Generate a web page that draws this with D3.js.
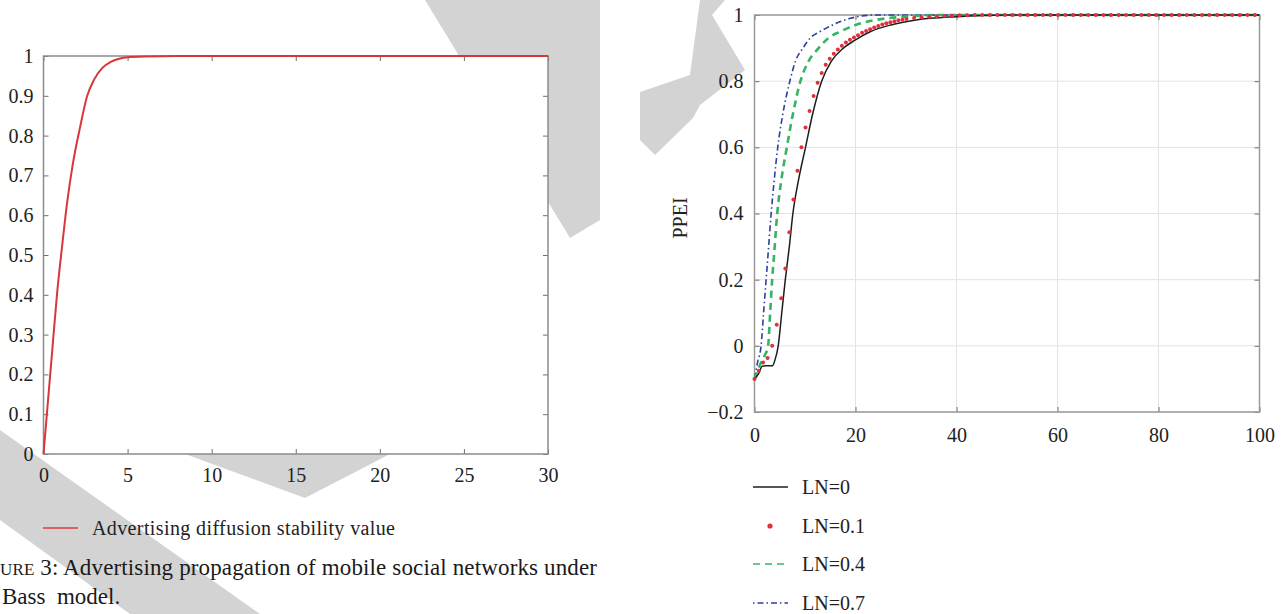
<!DOCTYPE html>
<html>
<head>
<meta charset="utf-8">
<script src="https://cdn.jsdelivr.net/npm/d3@7"></script>
<style>
  body { margin: 0; background: #fff; }
  svg { display: block; font-family: "Liberation Serif", "DejaVu Serif", serif; }
</style>
</head>
<body>
<div id="chart"></div>
<script>
// Left panel: Bass model diffusion curve
var bassT = [0, 0.2, 0.5, 0.8, 1.1, 1.4, 1.75, 2.17, 2.6, 3, 3.5, 4, 4.5, 5, 6, 8, 10, 15, 20, 25, 30];
var bassV = [0, 0.1, 0.25, 0.4, 0.52, 0.63, 0.73, 0.82, 0.9, 0.94, 0.97, 0.985, 0.993, 0.997, 0.999, 1, 1, 1, 1, 1, 1];
var leftXTicks = [0, 5, 10, 15, 20, 25, 30];
var leftYTicks = [0, 0.1, 0.2, 0.3, 0.4, 0.5, 0.6, 0.7, 0.8, 0.9, 1];

// Right panel: PPEI for different LN values
var ln0 = [[0, -0.1], [0.8, -0.085], [1.5, -0.062], [2.2, -0.06], [3.6, -0.06], [4.0, -0.045], [4.7, 0], [5.4, 0.1],
  [6.1, 0.2], [6.9, 0.3], [7.6, 0.4], [8.7, 0.5], [10.1, 0.6], [11.5, 0.7], [13.3, 0.8], [15.2, 0.86], [17.6, 0.9],
  [20, 0.925], [23, 0.95], [27, 0.97], [32, 0.985], [40, 0.995], [50, 1], [100, 1]];
var ln01 = [[0, -0.1], [0.85, -0.075], [1.7, -0.05], [2.6, -0.037], [3.5, 0], [4.4, 0.064], [5.3, 0.144], [6.1, 0.234],
  [6.9, 0.343], [7.7, 0.442], [8.5, 0.529], [9.3, 0.6], [10.1, 0.66], [10.9, 0.71], [11.7, 0.755], [12.5, 0.795],
  [13.3, 0.825], [14.1, 0.85], [14.9, 0.868], [15.7, 0.883], [16.5, 0.896], [17.3, 0.907], [18.1, 0.917], [18.9, 0.925],
  [19.7, 0.932], [20.5, 0.939], [21.3, 0.946], [22.1, 0.952], [22.9, 0.957], [23.7, 0.962], [24.5, 0.967], [25.3, 0.971],
  [26.1, 0.975], [26.9, 0.978], [27.7, 0.981], [28.5, 0.984], [29.3, 0.986], [30.1, 0.988], [31.6, 0.991], [33.1, 0.993],
  [34.6, 0.995], [36.1, 0.996], [37.6, 0.997], [39.1, 0.998], [40.6, 0.999], [42.1, 0.999], [43.6, 1], [45.1, 1],
  [46.6, 1], [48.1, 1], [49.6, 1], [51.1, 1], [52.6, 1], [54.1, 1], [55.6, 1], [57.1, 1], [58.6, 1], [60.1, 1],
  [61.6, 1], [63.1, 1], [64.6, 1], [66.1, 1], [67.6, 1], [69.1, 1], [70.6, 1], [72.1, 1], [73.6, 1], [75.1, 1],
  [76.6, 1], [78.1, 1], [79.6, 1], [81.1, 1], [82.6, 1], [84.1, 1], [85.6, 1], [87.1, 1], [88.6, 1], [90.1, 1],
  [91.6, 1], [93.1, 1], [94.6, 1], [96.1, 1], [97.6, 1], [99.1, 1]];
var ln04 = [[0, -0.1], [1.0, -0.06], [2.0, -0.03], [2.7, 0], [3.1, 0.1], [3.5, 0.2], [4.0, 0.3], [4.5, 0.4], [5.3, 0.5],
  [6.4, 0.6], [7.6, 0.7], [9.1, 0.8], [10.7, 0.86], [12.7, 0.9], [14.6, 0.93], [17, 0.95], [20, 0.97], [24, 0.985],
  [30, 0.995], [36, 1], [100, 1]];
var ln07 = [[0, -0.1], [0.6, -0.05], [1.3, 0], [1.8, 0.1], [2.3, 0.2], [2.8, 0.3], [3.3, 0.4], [3.9, 0.5], [4.6, 0.6],
  [5.6, 0.7], [7.0, 0.8], [8.1, 0.86], [9.6, 0.9], [11, 0.93], [13, 0.95], [15.5, 0.97], [19, 0.99], [24, 1], [100, 1]];
var rightXTicks = [0, 20, 40, 60, 80, 100];
var rightYTicks = [-0.2, 0, 0.2, 0.4, 0.6, 0.8, 1];
var legendLabels = ["LN=0", "LN=0.1", "LN=0.4", "LN=0.7"];

var svg = d3.select("#chart").append("svg")
  .attr("width", 1285)
  .attr("height", 614);

// grey watermark shapes behind everything
var wm = svg.append("g").attr("fill", "#d3d3d3");
[
  [[0, 430], [260, 614], [130, 614], [0, 520]],
  [[185, 454], [390, 454], [305, 498]],
  [[425, 0], [600, 0], [600, 220], [570, 238]],
  [[700, 0], [725, 0], [712, 15], [745, 70], [700, 105], [693, 118], [655, 155], [640, 140], [640, 92], [690, 75]]
].forEach(function(p) {
  wm.append("polygon").attr("points", p.map(function(d) { return d.join(","); }).join(" "));
});

function styleAxis(g) {
  g.select(".domain").remove();
  g.selectAll(".tick line").attr("stroke", "#6f6f6f");
  g.selectAll(".tick text").attr("fill", "#222");
  g.attr("font-size", 20).attr("font-family", "Liberation Serif, DejaVu Serif, serif");
}

// ---------- left chart ----------
var L = { left: 43.5, right: 548, top: 56, bottom: 454 };
var xL = d3.scaleLinear().domain([0, 30]).range([L.left, L.right]);
var yL = d3.scaleLinear().domain([0, 1]).range([L.bottom, L.top]);

svg.append("rect")
  .attr("x", L.left).attr("y", L.top)
  .attr("width", L.right - L.left).attr("height", L.bottom - L.top)
  .attr("fill", "#fff");

svg.append("g").attr("transform", "translate(0," + L.bottom + ")")
  .call(d3.axisBottom(xL).tickValues(leftXTicks).tickSizeInner(-5).tickSizeOuter(0).tickPadding(14))
  .call(styleAxis);
svg.append("g").attr("transform", "translate(0," + L.top + ")")
  .call(d3.axisTop(xL).tickValues(leftXTicks).tickSizeInner(-5).tickSizeOuter(0).tickFormat(function() { return ""; }))
  .call(styleAxis);
svg.append("g").attr("transform", "translate(" + L.left + ",0)")
  .call(d3.axisLeft(yL).tickValues(leftYTicks).tickSizeInner(-5).tickSizeOuter(0).tickPadding(10).tickFormat(d3.format("~g")))
  .call(styleAxis);
svg.append("g").attr("transform", "translate(" + L.right + ",0)")
  .call(d3.axisRight(yL).tickValues(leftYTicks).tickSizeInner(-5).tickSizeOuter(0).tickFormat(function() { return ""; }))
  .call(styleAxis);

svg.append("rect")
  .attr("x", L.left).attr("y", L.top)
  .attr("width", L.right - L.left).attr("height", L.bottom - L.top)
  .attr("fill", "none").attr("stroke", "#8c8c8c").attr("stroke-width", 1.5);

var bassLine = d3.line()
  .x(function(d, i) { return xL(bassT[i]); })
  .y(function(d) { return yL(d); })
  .curve(d3.curveMonotoneX);

svg.append("path")
  .datum(bassV)
  .attr("d", bassLine)
  .attr("fill", "none")
  .attr("stroke", "#d9363a")
  .attr("stroke-width", 2);

// left legend
svg.append("line")
  .attr("x1", 43).attr("x2", 78).attr("y1", 528).attr("y2", 528)
  .attr("stroke", "#e0393e").attr("stroke-width", 1.5);
svg.append("text")
  .attr("x", 92).attr("y", 528).attr("dy", "0.35em")
  .attr("font-size", 20).attr("fill", "#222")
  .attr("textLength", 303)
  .text("Advertising diffusion stability value");

// caption
var cap = svg.append("text").attr("x", 0).attr("y", 575).attr("font-size", 23).attr("fill", "#1a1a1a")
  .attr("textLength", 597);
cap.append("tspan").attr("font-size", 17).text("URE");
cap.append("tspan").text(" 3: Advertising propagation of mobile social networks under");
svg.append("text").attr("x", 2).attr("y", 604).attr("font-size", 23).attr("fill", "#1a1a1a")
  .attr("xml:space", "preserve").text("Bass  model.");

// ---------- right chart ----------
var R = { left: 754.5, right: 1259.5, top: 15, bottom: 412 };
var xR = d3.scaleLinear().domain([0, 100]).range([R.left, R.right]);
var yR = d3.scaleLinear().domain([-0.2, 1]).range([R.bottom, R.top]);

svg.append("rect")
  .attr("x", R.left).attr("y", R.top)
  .attr("width", R.right - R.left).attr("height", R.bottom - R.top)
  .attr("fill", "#fff");

// grid
var grid = svg.append("g").attr("stroke", "#e3e3e3").attr("stroke-width", 1);
grid.selectAll(".gx").data(rightXTicks).enter().append("line")
  .attr("x1", function(d) { return xR(d); }).attr("x2", function(d) { return xR(d); })
  .attr("y1", R.top).attr("y2", R.bottom);
grid.selectAll(".gy").data(rightYTicks).enter().append("line")
  .attr("x1", R.left).attr("x2", R.right)
  .attr("y1", function(d) { return yR(d); }).attr("y2", function(d) { return yR(d); });

var fmtR = function(d) { return d < 0 ? "\u2212" + d3.format("~g")(-d) : d3.format("~g")(d); };

svg.append("g").attr("transform", "translate(0," + R.bottom + ")")
  .call(d3.axisBottom(xR).tickValues(rightXTicks).tickSizeInner(-5).tickSizeOuter(0).tickPadding(16))
  .call(styleAxis);
svg.append("g").attr("transform", "translate(0," + R.top + ")")
  .call(d3.axisTop(xR).tickValues(rightXTicks).tickSizeInner(-5).tickSizeOuter(0).tickFormat(function() { return ""; }))
  .call(styleAxis);
svg.append("g").attr("transform", "translate(" + R.left + ",0)")
  .call(d3.axisLeft(yR).tickValues(rightYTicks).tickSizeInner(-5).tickSizeOuter(0).tickPadding(11).tickFormat(fmtR))
  .call(styleAxis);
svg.append("g").attr("transform", "translate(" + R.right + ",0)")
  .call(d3.axisRight(yR).tickValues(rightYTicks).tickSizeInner(-5).tickSizeOuter(0).tickFormat(function() { return ""; }))
  .call(styleAxis);

svg.append("rect")
  .attr("x", R.left).attr("y", R.top)
  .attr("width", R.right - R.left).attr("height", R.bottom - R.top)
  .attr("fill", "none").attr("stroke", "#9a9a9a").attr("stroke-width", 1.5);

svg.append("text")
  .attr("transform", "translate(687,218) rotate(-90)")
  .attr("text-anchor", "middle")
  .attr("font-size", 20).attr("fill", "#222")
  .text("PPEI");

var lineR = d3.line()
  .x(function(d) { return xR(d[0]); })
  .y(function(d) { return yR(d[1]); })
  .curve(d3.curveMonotoneX);

var plotR = svg.append("g");

plotR.append("path").datum(ln07).attr("d", lineR)
  .attr("fill", "none").attr("stroke", "#2e3f9e").attr("stroke-width", 1.6)
  .attr("stroke-dasharray", "6,3,1.5,3");
plotR.append("path").datum(ln04).attr("d", lineR)
  .attr("fill", "none").attr("stroke", "#33b563").attr("stroke-width", 2.6)
  .attr("stroke-dasharray", "7,5");
plotR.append("path").datum(ln0).attr("d", lineR)
  .attr("fill", "none").attr("stroke", "#1e1e1e").attr("stroke-width", 1.5);
plotR.selectAll(".dot").data(ln01).enter().append("circle")
  .attr("cx", function(d) { return xR(d[0]); })
  .attr("cy", function(d) { return yR(d[1]); })
  .attr("r", 2)
  .attr("fill", "#e0303a");

// right legend
var legY = [487, 526, 564, 603];
var leg = svg.append("g");
leg.append("line").attr("x1", 753).attr("x2", 788).attr("y1", legY[0]).attr("y2", legY[0])
  .attr("stroke", "#1e1e1e").attr("stroke-width", 1.5);
leg.append("circle").attr("cx", 770).attr("cy", legY[1]).attr("r", 2.6).attr("fill", "#e0303a");
leg.append("line").attr("x1", 753).attr("x2", 788).attr("y1", legY[2]).attr("y2", legY[2])
  .attr("stroke", "#33b563").attr("stroke-width", 1.6).attr("stroke-dasharray", "7,5");
leg.append("line").attr("x1", 753).attr("x2", 788).attr("y1", legY[3]).attr("y2", legY[3])
  .attr("stroke", "#2e3f9e").attr("stroke-width", 1.4).attr("stroke-dasharray", "1.5,3,6,3");
leg.selectAll("text").data(legendLabels).enter().append("text")
  .attr("x", 802)
  .attr("y", function(d, i) { return legY[i]; })
  .attr("dy", "0.35em")
  .attr("font-size", 20).attr("fill", "#222")
  .text(function(d) { return d; });
</script>
</body>
</html>
